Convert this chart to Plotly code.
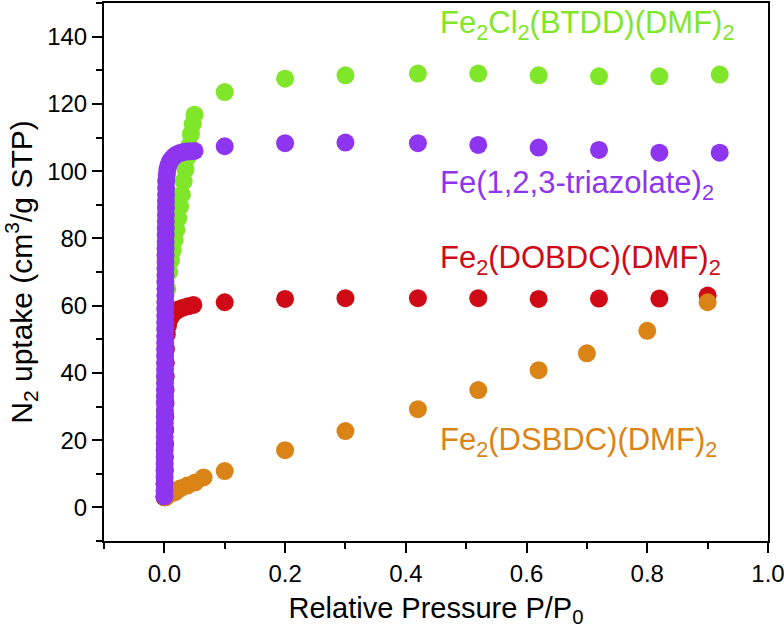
import plotly.graph_objects as go

# N2 isotherms, values
btdd_x = [0.0003, 0.0005, 0.0007, 0.0009, 0.0011, 0.0013, 0.0015, 0.0017, 0.0019, 0.0022,
          0.0026, 0.003, 0.005, 0.008, 0.011, 0.014, 0.017, 0.020, 0.023, 0.026,
          0.029, 0.032, 0.035, 0.038, 0.041, 0.044, 0.047, 0.050,
          0.1, 0.2, 0.3, 0.42, 0.52, 0.62, 0.72, 0.82, 0.92]
btdd_y = [3, 8, 13, 18, 23, 28, 33, 38, 43, 48,
          53, 59, 65, 70, 73.5, 76.5, 79.5, 82.5, 86, 89.5,
          93, 97, 100.5, 104, 107.5, 111, 114, 116.8,
          123.5, 127.5, 128.5, 129, 129, 128.5, 128.2, 128.2, 128.7]

dobdc_x = [0.0004, 0.0006, 0.0008, 0.0010, 0.0012, 0.0014, 0.0016, 0.0018, 0.0020, 0.0022,
           0.0024, 0.0026, 0.004, 0.006, 0.009, 0.013, 0.018, 0.024, 0.031, 0.039, 0.048,
           0.1, 0.2, 0.3, 0.42, 0.52, 0.62, 0.72, 0.82, 0.9]
dobdc_y = [3, 7, 11, 15, 19, 23, 27, 31, 35, 39,
           43, 47, 51.5, 54, 56, 57.3, 58.2, 58.9, 59.4, 59.8, 60.2,
           61, 62, 62.2, 62.2, 62.2, 62, 62.1, 62.1, 63]

dsbdc_x = [0.002, 0.008, 0.018, 0.027, 0.038, 0.051, 0.065,
           0.1, 0.2, 0.3, 0.42, 0.52, 0.62, 0.7, 0.8, 0.9]
dsbdc_y = [3, 3.8, 4.5, 5.7, 6.5, 7.4, 8.9,
           10.8, 17, 22.7, 29.2, 34.9, 40.8, 45.8, 52.5, 61]

triaz_x = [0.0001, 0.0002, 0.0002, 0.0003, 0.0003, 0.0004, 0.0004, 0.0005, 0.0005, 0.0006,
           0.0006, 0.0007, 0.0007, 0.0008, 0.0008, 0.0009, 0.0009, 0.0010, 0.0010, 0.0011,
           0.0011, 0.0012, 0.0012, 0.0013, 0.0013, 0.0014, 0.0014, 0.0015, 0.0015, 0.0016,
           0.0016, 0.0017, 0.0017, 0.0018, 0.0018, 0.0019, 0.0019, 0.0020, 0.0021, 0.0022,
           0.0023, 0.0024, 0.0025, 0.0026, 0.0027, 0.0028, 0.0029,
           0.003, 0.004, 0.005, 0.007, 0.009, 0.012, 0.015, 0.018, 0.022, 0.026,
           0.030, 0.036, 0.042, 0.050,
           0.1, 0.2, 0.3, 0.42, 0.52, 0.62, 0.72, 0.82, 0.92]
triaz_y = [3.3, 5, 7, 9, 11, 13, 15, 17, 19, 21,
           23, 25, 27, 29, 31, 33, 35, 37, 39, 41,
           43, 45, 47, 49, 51, 53, 55, 57, 59, 61,
           63, 65, 67, 69, 71, 73, 75, 77, 79, 81,
           83, 85, 87, 89, 91, 93, 95,
           97, 99, 100.5, 101.8, 102.8, 103.6, 104.2, 104.7, 105.1, 105.4,
           105.6, 105.8, 105.9, 106,
           107.4, 108.3, 108.5, 108.3, 107.8, 107, 106.3, 105.5, 105.5]

names = ["Fe<sub>2</sub>Cl<sub>2</sub>(BTDD)(DMF)<sub>2</sub>",
         "Fe<sub>2</sub>(DOBDC)(DMF)<sub>2</sub>",
         "Fe<sub>2</sub>(DSBDC)(DMF)<sub>2</sub>",
         "Fe(1,2,3-triazolate)<sub>2</sub>"]
colors = ["#80E62A", "#CD0A16", "#DA8418", "#8E35EF"]
label_y = [143.5, 73.5, 19.5, 96]

x_ticks = [0.0, 0.2, 0.4, 0.6, 0.8, 1.0]
x_ticktext = ["0.0", "0.2", "0.4", "0.6", "0.8", "1.0"]
y_ticks = [0, 20, 40, 60, 80, 100, 120, 140]

series = [(btdd_x, btdd_y), (dobdc_x, dobdc_y), (dsbdc_x, dsbdc_y), (triaz_x, triaz_y)]

FONT = "Liberation Sans, Arial, sans-serif"

fig = go.Figure()
for (xs, ys), name, col in zip(series, names, colors):
    fig.add_trace(go.Scatter(x=xs, y=ys, mode='markers', name=name,
                             marker=dict(color=col, size=18, line=dict(width=0))))

for name, col, ly in zip(names, colors, label_y):
    fig.add_annotation(x=0.454, y=ly, text=name, showarrow=False,
                       xanchor='left', yanchor='middle',
                       font=dict(family=FONT, size=31, color=col))

axis_common = dict(showline=True, linecolor='black', linewidth=2, mirror=True,
                   ticks='outside', ticklen=10, tickwidth=2, tickcolor='black',
                   showgrid=False, zeroline=False, automargin=False,
                   ticklabeloverflow='allow',
                   tickfont=dict(family=FONT, size=24, color='black'))

fig.update_layout(
    width=784, height=635,
    margin=dict(l=104, r=16, t=3, b=94),
    plot_bgcolor='white', paper_bgcolor='white',
    showlegend=False,
    xaxis=dict(range=[-0.1, 1.0], tickvals=x_ticks, ticktext=x_ticktext,
               minor=dict(dtick=0.1, tick0=0, ticks='outside', ticklen=6, tickwidth=2, tickcolor='black'),
               title=dict(text="Relative Pressure P/P<sub>0</sub>", standoff=12,
                          font=dict(family=FONT, size=29, color='black')),
               **axis_common),
    yaxis=dict(range=[-10, 150], tickvals=y_ticks,
               minor=dict(dtick=10, tick0=0, ticks='outside', ticklen=6, tickwidth=2, tickcolor='black'),
               title=dict(text="N<sub>2</sub> uptake (cm<sup>3</sup>/g STP)", standoff=6,
                          font=dict(family=FONT, size=30, color='black')),
               **axis_common),
)

# the page's default body margin would push the figure 8px off
fig.write_html("out.html", config={'displayModeBar': False},
               post_script="document.body.style.margin='0';")
